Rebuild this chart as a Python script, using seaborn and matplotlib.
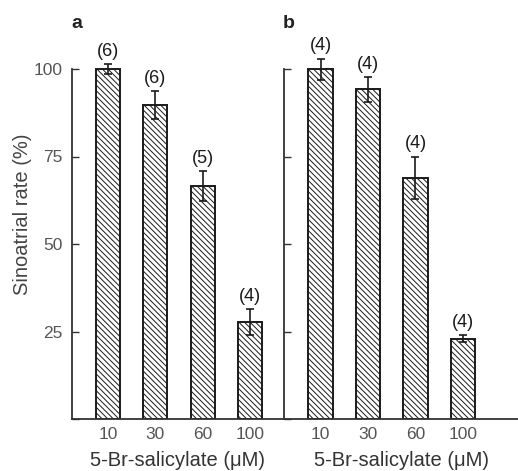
import matplotlib
matplotlib.use("Agg")
import matplotlib.pyplot as plt
import seaborn as sns
import pandas as pd

concentrations = ["10", "30", "60", "100"]

rate_a = [100.0, 89.7, 66.6, 27.6]
err_a = [1.5, 4.0, 4.3, 3.7]
n_a = [6, 6, 5, 4]

rate_b = [100.0, 94.2, 69.0, 22.9]
err_b = [3.0, 3.5, 6.0, 1.0]
n_b = [4, 4, 4, 4]

yticks = [25, 50, 75, 100]

sns.set_style("white")
plt.rcParams["font.family"] = ["Liberation Sans", "DejaVu Sans"]
plt.rcParams["hatch.linewidth"] = 0.7

fig = plt.figure(figsize=(5.18, 4.71), dpi=100)
ax_a = fig.add_axes([72 / 518, 52 / 471, 212 / 518, 409 / 471])
ax_b = fig.add_axes([284 / 518, 52 / 471, 234 / 518, 409 / 471])


def draw_panel(ax, rates, errs, ns, xlim, show_labels):
    df = pd.DataFrame({"conc": concentrations, "rate": rates})
    sns.barplot(data=df, x="conc", y="rate", order=concentrations, ax=ax,
                color="white", edgecolor="#1a1a1a", linewidth=1.4,
                hatch="\\\\\\\\\\\\", width=0.51, errorbar=None)
    xs = list(range(len(rates)))
    ax.errorbar(xs, rates, yerr=errs, fmt="none", ecolor="#1a1a1a",
                elinewidth=1.2, capsize=3, capthick=1.2)
    for x, r, e, n in zip(xs, rates, errs, ns):
        ax.annotate(f"({n})", (x, r + e), xytext=(0, 3), textcoords="offset points",
                    ha="center", va="bottom", fontsize=13, color="#1a1a1a")

    ax.set_xlim(*xlim)
    ax.set_ylim(0, 409 / 3.5)
    ax.set_yticks(yticks + [0])
    ax.set_yticklabels([str(t) for t in yticks] + [""] if show_labels else [])
    for s in ["top", "right"]:
        ax.spines[s].set_visible(False)
    ax.spines["left"].set_bounds(0, 100)
    for s in ["left", "bottom"]:
        ax.spines[s].set_color("#333333")
        ax.spines[s].set_linewidth(1.3)
    ax.tick_params(axis="y", left=True, direction="in", length=5, width=1.0,
                   color="#333333", pad=7, labelsize=12.5, labelcolor="#555555")
    ax.tick_params(axis="x", bottom=False, length=0, pad=6, labelsize=12.5,
                   labelcolor="#555555")
    ax.set_xlabel("5-Br-salicylate (\u03bcM)", fontsize=14.5, color="#333333", labelpad=6)
    ax.set_ylabel("")
    ax.patch.set_alpha(0)


draw_panel(ax_a, rate_a, err_a, n_a, (-0.76, 3.72), True)
draw_panel(ax_b, rate_b, err_b, n_b, (-0.77, 4.16), False)

ax_a.set_ylabel("Sinoatrial rate (%)", fontsize=14.5, color="#444444", labelpad=1)

fig.text(77 / 518, 1 - 23 / 471, "a", fontsize=14, fontweight="bold",
         ha="center", va="center", color="#222222")
fig.text(289 / 518, 1 - 23 / 471, "b", fontsize=14, fontweight="bold",
         ha="center", va="center", color="#222222")

fig.savefig("out.png", dpi=100)
